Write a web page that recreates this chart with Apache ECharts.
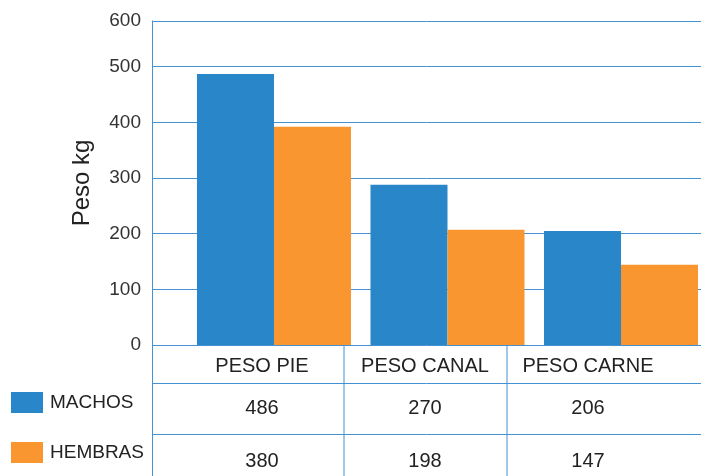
<!DOCTYPE html>
<html>
<head>
<meta charset="utf-8">
<script src="https://cdn.jsdelivr.net/npm/echarts@6/dist/echarts.min.js"></script>
<style>
  html, body { margin: 0; padding: 0; background: #fff; }
  #chart { width: 701px; height: 476px; }
</style>
</head>
<body>
<div id="chart"></div>
<script>
const categories = ["PESO PIE", "PESO CANAL", "PESO CARNE"];
const seriesNames = ["MACHOS", "HEMBRAS"];
// values printed in the table
const machosTable = [486, 270, 206];
const hembrasTable = [380, 198, 147];
// bar heights as drawn in the picture
const machosBars = [487, 288, 205];
const hembrasBars = [392, 207, 144];
const yTopValue = 582;      // where the top frame line sits
const yTopLabel = "600";    // what the picture prints there

const BLUE = "#2886c9";
const ORANGE = "#f9962f";
const LINE = "#4591d1";
const FONT = "Liberation Sans, Arial, sans-serif";

const chart = echarts.init(document.getElementById("chart"));

// ── data table under the plot
const tableLeft = 180.5, colW = 163;
const rowLines = [383.5, 434.5];
const rowText = [366, 408, 461];
const rows = [categories, machosTable.map(String), hembrasTable.map(String)];

const graphic = [];
graphic.push({ type: "line", shape: { x1: 152.5, y1: 345, x2: 152.5, y2: 476 }, style: { stroke: LINE, lineWidth: 1 } });
rowLines.forEach((y) => {
  graphic.push({ type: "line", shape: { x1: 152, y1: y, x2: 701, y2: y }, style: { stroke: LINE, lineWidth: 1 } });
});
[1, 2].forEach((c) => {
  const x = tableLeft + colW * c + 0.5;
  graphic.push({ type: "line", shape: { x1: x, y1: 345, x2: x, y2: 476 }, style: { stroke: LINE, lineWidth: 1 } });
});
rows.forEach((row, r) => {
  row.forEach((txt, c) => {
    graphic.push({
      type: "text",
      x: tableLeft + colW * (c + 0.5),
      y: rowText[r],
      style: { text: txt, fill: "#222", font: `20px ${FONT}`, align: "center", verticalAlign: "middle" },
    });
  });
});

const option = {
  animation: false,
  textStyle: { fontFamily: FONT },
  grid: { left: 152, top: 21, right: 0, bottom: 131, containLabel: false },
  legend: {
    orient: "vertical",
    left: 11,
    top: 392,
    icon: "rect",
    itemWidth: 32,
    itemHeight: 21,
    itemGap: 29,
    padding: 0,
    textStyle: { fontSize: 19, color: "#222", padding: [0, 0, 0, 2] },
    data: seriesNames,
  },
  xAxis: {
    type: "value",
    min: -0.703,
    max: 2.461,
    show: false,
  },
  yAxis: {
    type: "value",
    min: 0,
    max: yTopValue,
    interval: 100,
    name: "Peso kg",
    nameLocation: "middle",
    nameGap: 58,
    nameTextStyle: { fontSize: 24, color: "#222" },
    axisLine: { show: true, onZero: false, lineStyle: { color: LINE, width: 1 } },
    axisTick: { show: false },
    axisLabel: {
      fontSize: 19,
      color: "#333",
      margin: 11,
      showMaxLabel: true,
      formatter: (v) => (v >= yTopValue ? yTopLabel : String(v)),
    },
    splitLine: { lineStyle: { color: LINE, width: 1 } },
  },
  series: [
    {
      name: seriesNames[0],
      type: "bar",
      barWidth: 77,
      barGap: "0%",
      itemStyle: { color: BLUE },
      data: machosBars.map((v, i) => [i, v]),
    },
    {
      name: seriesNames[1],
      type: "bar",
      barWidth: 77,
      barGap: "0%",
      itemStyle: { color: ORANGE },
      data: hembrasBars.map((v, i) => [i, v]),
    },
  ],
  graphic: graphic,
};

chart.setOption(option);
</script>
</body>
</html>
